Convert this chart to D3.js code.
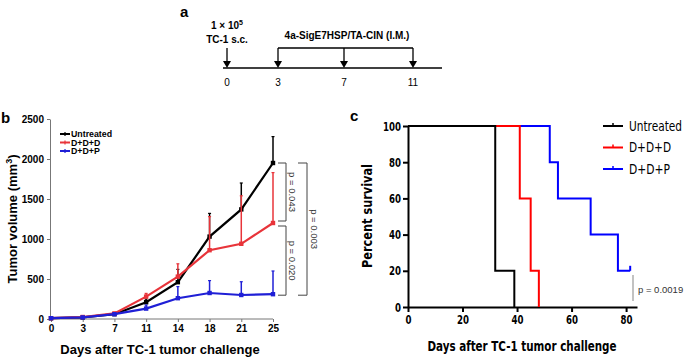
<!DOCTYPE html>
<html>
<head>
<meta charset="utf-8">
<script src="https://cdn.jsdelivr.net/npm/d3@7"></script>
<style>
  body { margin: 0; background: #fff; }
  text { font-family: "Liberation Sans", Arial, sans-serif; }
</style>
</head>
<body>
<div id="draw"></div>
<script>
// panel a: schedule
var schedDays = [0, 3, 7, 11];

// panel b: tumor volume
var days = [0, 3, 7, 11, 14, 18, 21, 25];
var groups = ['Untreated', 'D+D+D', 'D+D+P'];
var untreatedVol = [10, 20, 60, 210, 460, 1030, 1370, 1950];
var untreatedErr = [10, 25, 70, 250, 620, 1320, 1700, 2280];
var dddVol = [10, 25, 70, 280, 530, 860, 940, 1200];
var dddErr = [10, 30, 80, 320, 690, 1280, 1540, 1830];
var ddpVol = [10, 20, 60, 130, 260, 325, 300, 310];
var ddpErr = [10, 25, 70, 175, 405, 480, 466, 600];
var volTicks = [0, 500, 1000, 1500, 2000, 2500];

// panel c: survival
var untreatedT = [0, 32, 39], untreatedS = [100, 20, 0];
var dddT = [0, 41, 45, 48], dddS = [100, 60, 20, 0];
var ddpT = [0, 52, 55, 67, 77, 81.5], ddpS = [100, 80, 60, 40, 20, 20];
var survTicks = [0, 20, 40, 60, 80, 100];
var dayTicks = [0, 20, 40, 60, 80];

var colorsB = ['#000000', '#e8343a', '#1f1fd6'];
var colorsC = ['#000000', '#ff0000', '#0000ff'];
var narrow = '"Liberation Sans Narrow", "DejaVu Sans Condensed", "Liberation Sans", Arial, sans-serif';

var svg = d3.select('#draw').append('svg').attr('width', 685).attr('height', 359);

// ---------- panel a ----------
var a = svg.append('g');
a.append('text').attr('x', 180).attr('y', 17).style('font-size', '15px').style('font-weight', 'bold').text('a');
// measured positions of the days on the timeline
var schedX = { 0: 227, 3: 278, 7: 344, 11: 413 };
a.append('line').attr('x1', 223).attr('x2', 442).attr('y1', 68).attr('y2', 68)
  .attr('stroke', '#000').attr('stroke-width', 1.6);
schedDays.forEach(function (d) {
  var x = schedX[d];
  a.append('line').attr('x1', x).attr('x2', x).attr('y1', 48).attr('y2', 62).attr('stroke', '#000').attr('stroke-width', 1.3);
  a.append('path').attr('d', 'M' + (x - 4) + ',61L' + (x + 4) + ',61L' + x + ',68Z').attr('fill', '#000');
  a.append('text').attr('x', x).attr('y', 86).attr('text-anchor', 'middle').style('font-size', '10px').text(d);
});
a.append('line').attr('x1', schedX[3]).attr('x2', schedX[11]).attr('y1', 48).attr('y2', 48).attr('stroke', '#000').attr('stroke-width', 1.3);
var t1 = a.append('text').attr('x', 227).attr('y', 29).attr('text-anchor', 'middle').style('font-size', '10px').style('font-weight', 'bold');
t1.append('tspan').text('1 × 10');
t1.append('tspan').attr('dy', -4).style('font-size', '7px').text('5');
a.append('text').attr('x', 227).attr('y', 43).attr('text-anchor', 'middle').style('font-size', '10px').style('font-weight', 'bold').text('TC-1 s.c.');
a.append('text').attr('x', 347).attr('y', 39).attr('text-anchor', 'middle').style('font-size', '10px').style('font-weight', 'bold').text('4a-SigE7HSP/TA-CIN (I.M.)');

// ---------- panel b ----------
var b = svg.append('g');
b.append('text').attr('x', 1).attr('y', 123).style('font-size', '15px').style('font-weight', 'bold').text('b');
var xb = d3.scalePoint().domain(days).range([51, 273]);
var yb = d3.scaleLinear().domain([0, 2500]).range([319, 119]);

var yAxisB = b.append('g').attr('transform', 'translate(50,0)')
  .call(d3.axisLeft(yb).tickValues(volTicks).tickFormat(d3.format('d')).tickSize(3).tickSizeOuter(0));
var xAxisB = b.append('g').attr('transform', 'translate(0,319)')
  .call(d3.axisBottom(xb).tickSize(3).tickSizeOuter(0));
[yAxisB, xAxisB].forEach(function (g) {
  g.selectAll('path, line').attr('stroke', '#777');
  g.selectAll('text').style('font-size', '10px').style('font-weight', 'bold').attr('fill', '#000')
    .style('font-family', '"Liberation Sans", Arial, sans-serif');
});
xAxisB.select('.domain').attr('d', 'M50,0H273');
yAxisB.selectAll('text').attr('x', -6);
xAxisB.selectAll('text').attr('y', 6);

b.append('text').attr('x', 160).attr('y', 354).attr('text-anchor', 'middle')
  .style('font-size', '13px').style('font-weight', 'bold').text('Days after TC-1 tumor challenge');
var yt = b.append('text').attr('transform', 'translate(17,219) rotate(-90)').attr('text-anchor', 'middle')
  .style('font-size', '13px').style('font-weight', 'bold');
yt.append('tspan').text('Tumor volume (mm');
yt.append('tspan').attr('dy', -5).style('font-size', '9px').text('3');
yt.append('tspan').attr('dy', 5).text(')');

var seriesB = [
  { vals: untreatedVol, err: untreatedErr },
  { vals: dddVol, err: dddErr },
  { vals: ddpVol, err: ddpErr }
];
var lineB = d3.line().x(function (d, i) { return xb(days[i]); }).y(function (d) { return yb(d); });
seriesB.forEach(function (s, k) {
  var g = b.append('g');
  s.vals.forEach(function (v, i) {
    var x = xb(days[i]);
    g.append('line').attr('x1', x).attr('x2', x).attr('y1', yb(v)).attr('y2', yb(s.err[i]))
      .attr('stroke', colorsB[k]).attr('stroke-width', 1.5);
    g.append('line').attr('x1', x - 1.5).attr('x2', x + 1.5).attr('y1', yb(s.err[i])).attr('y2', yb(s.err[i]))
      .attr('stroke', colorsB[k]).attr('stroke-width', 1.2);
  });
  g.append('path').attr('d', lineB(s.vals)).attr('fill', 'none').attr('stroke', colorsB[k]).attr('stroke-width', 2.2);
  g.selectAll('rect').data(s.vals).enter().append('rect')
    .attr('x', function (d, i) { return xb(days[i]) - 2.2; })
    .attr('y', function (d) { return yb(d) - 2.2; })
    .attr('width', 4.4).attr('height', 4.4).attr('fill', colorsB[k]);
});

// legend b
groups.forEach(function (name, i) {
  var y = 134 + i * 8.5;
  b.append('line').attr('x1', 60).attr('x2', 70).attr('y1', y).attr('y2', y).attr('stroke', colorsB[i]).attr('stroke-width', 2);
  b.append('line').attr('x1', 65).attr('x2', 65).attr('y1', y - 2).attr('y2', y + 2).attr('stroke', colorsB[i]).attr('stroke-width', 1.2);
  b.append('text').attr('x', 71).attr('y', y + 3.2).style('font-size', '8.8px').style('font-weight', 'bold').text(name);
});

// significance brackets
function bracket(x0, x1, y0, y1, label, tx) {
  b.append('path').attr('d', 'M' + x0 + ',' + y0 + 'H' + x1 + 'V' + y1 + 'H' + x0)
    .attr('fill', 'none').attr('stroke', '#444').attr('stroke-width', 1);
  b.append('text').attr('transform', 'translate(' + tx + ',' + ((y0 + y1) / 2) + ') rotate(90)')
    .attr('text-anchor', 'middle').style('font-size', '9.5px').attr('fill', '#333').text(label);
}
bracket(278, 286, yb(untreatedVol[7]), yb(dddVol[7]) - 2, 'p = 0.043', 289);
bracket(278, 286, yb(dddVol[7]) + 3, yb(ddpVol[7]) + 1, 'p = 0.020', 289);
bracket(298, 307, yb(untreatedVol[7]), yb(ddpVol[7]) + 1, 'p = 0.003', 311);

// ---------- panel c ----------
var c = svg.append('g');
c.append('text').attr('x', 350).attr('y', 121).style('font-size', '15px').style('font-weight', 'bold').text('c');
var xc = d3.scaleLinear().domain([0, 84]).range([408, 637]);
var yc = d3.scaleLinear().domain([0, 100]).range([307, 126]);

var yAxisC = c.append('g').attr('transform', 'translate(408,0)')
  .call(d3.axisLeft(yc).tickValues(survTicks).tickSize(5).tickSizeOuter(0));
var xAxisC = c.append('g').attr('transform', 'translate(0,307)')
  .call(d3.axisBottom(xc).tickValues(dayTicks).tickSize(5).tickSizeOuter(0));
[yAxisC, xAxisC].forEach(function (g) {
  g.selectAll('path, line').attr('stroke', '#000').attr('stroke-width', 2);
  g.selectAll('text').style('font-size', '12.5px').style('font-weight', 'bold').attr('fill', '#000')
    .style('font-family', narrow)
    .attr('textLength', function (d) { return String(d).length * 6; })
    .attr('lengthAdjust', 'spacingAndGlyphs');
});
yAxisC.selectAll('text').attr('x', -7);
xAxisC.selectAll('text').attr('y', 8);

c.append('text').attr('x', 522).attr('y', 351).attr('text-anchor', 'middle')
  .style('font-size', '13.5px').style('font-weight', 'bold').style('font-family', narrow)
  .attr('textLength', 189).attr('lengthAdjust', 'spacingAndGlyphs')
  .text('Days after TC-1 tumor challenge');
c.append('text').attr('transform', 'translate(372,216) rotate(-90)').attr('text-anchor', 'middle')
  .style('font-size', '13.5px').style('font-weight', 'bold').style('font-family', narrow)
  .attr('textLength', 104).attr('lengthAdjust', 'spacingAndGlyphs')
  .text('Percent survival');

var seriesC = [
  { t: untreatedT, s: untreatedS },
  { t: dddT, s: dddS },
  { t: ddpT, s: ddpS }
];
var stepLine = d3.line().curve(d3.curveStepAfter)
  .x(function (d) { return xc(d[0]); }).y(function (d) { return yc(d[1]); });
[2, 1, 0].forEach(function (k) {
  var s = seriesC[k];
  var pts = s.t.map(function (t, i) { return [t, s.s[i]]; });
  c.append('path').attr('d', stepLine(pts)).attr('fill', 'none').attr('stroke', colorsC[k]).attr('stroke-width', 2);
});
// censor tick at the end of D+D+P
var lastT = ddpT[ddpT.length - 1], lastS = ddpS[ddpS.length - 1];
c.append('line').attr('x1', xc(lastT)).attr('x2', xc(lastT)).attr('y1', yc(lastS)).attr('y2', yc(lastS) - 5)
  .attr('stroke', colorsC[2]).attr('stroke-width', 2);

// legend c
var legendW = [53, 42, 41];
groups.forEach(function (name, i) {
  var y = 126 + i * 21.5;
  c.append('line').attr('x1', 603).attr('x2', 623).attr('y1', y).attr('y2', y).attr('stroke', colorsC[i]).attr('stroke-width', 2);
  c.append('line').attr('x1', 613).attr('x2', 613).attr('y1', y - 3).attr('y2', y).attr('stroke', colorsC[i]).attr('stroke-width', 1.5);
  c.append('text').attr('x', 629).attr('y', y + 5).style('font-size', '12.5px').style('font-family', narrow)
    .attr('transform', 'translate(' + 629 + ',' + (y + 5) + ') scale(1,1.12) translate(' + (-629) + ',' + (-(y + 5)) + ')')
    .attr('textLength', legendW[i]).attr('lengthAdjust', 'spacingAndGlyphs').text(name);
});

// p value
c.append('line').attr('x1', 633).attr('x2', 633).attr('y1', 275).attr('y2', 301).attr('stroke', '#999').attr('stroke-width', 1.2);
c.append('text').attr('x', 638).attr('y', 293).style('font-size', '9.5px').attr('fill', '#333').text('p = 0.0019');
</script>
</body>
</html>
